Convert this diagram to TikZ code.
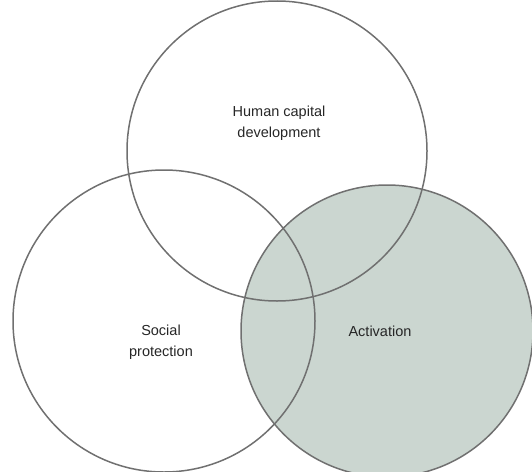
\documentclass[tikz,border=0pt]{standalone}
\usepackage{fontspec}
\setmainfont{Liberation Sans}
\definecolor{ringline}{HTML}{707070}
\definecolor{ringfill}{HTML}{CBD6D0}
\begin{document}
\begin{tikzpicture}[x=1pt,y=-1pt,
  ring/.style={draw=ringline,line width=1.5pt},
  lbl/.style={align=center,font=\fontsize{14.5}{21.5}\selectfont,text=black!85}]
\useasboundingbox (0,0) rectangle (532,471);
\coordinate (ct) at (277,151);
\coordinate (cl) at (164,321);
\coordinate (cr) at (387,331);
\fill[ringfill] (cr) circle[radius=146];
\draw[ring] (ct) circle[radius=150];
\draw[ring] (cl) circle[radius=151];
\draw[ring] (cr) circle[radius=146];
\node[lbl] (hc) at (279,123) {Human capital\\development};
\node[lbl] (sp) at (161,342) {Social\\protection};
\node[lbl] (ac) at (380,331) {Activation};
\end{tikzpicture}
\end{document}
